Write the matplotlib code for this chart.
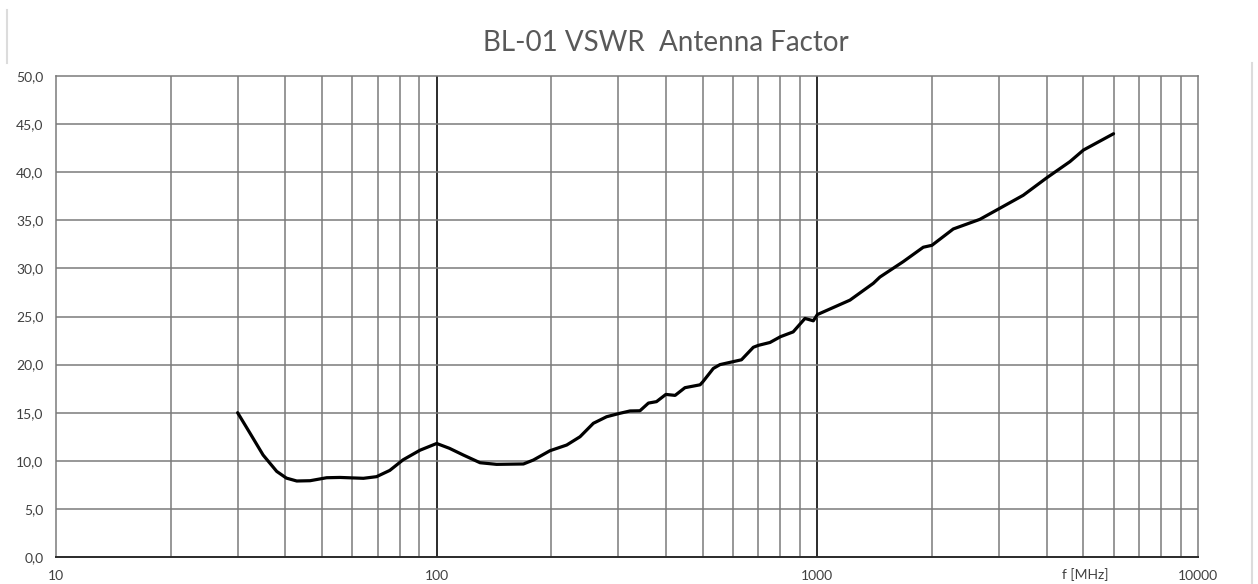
import matplotlib
matplotlib.use("Agg")
import matplotlib.pyplot as plt
from matplotlib.lines import Line2D
from matplotlib.ticker import FixedLocator, NullFormatter

# ---- data ----
freq_mhz = [30, 32.3, 35, 38, 40.3, 42.9, 46.5, 51.4, 55.7, 64.2, 69.5, 75.3,
            81.6, 90.4, 100, 108, 117.5, 130, 143.7, 169, 179.5, 198.5, 219.6,
            238, 258, 279.5, 303, 322, 342, 360, 378, 400, 423, 449, 492, 500,
            533, 555, 600, 632, 679, 700, 751, 800, 864, 928, 976, 1000, 1218,
            1403, 1460, 1681, 1898, 2000, 2276, 2673, 3000, 3474, 4000, 4609,
            5000, 6000]
antenna_factor = [15.0, 12.9, 10.6, 8.9, 8.2, 7.9, 7.93, 8.24, 8.27, 8.18,
                  8.35, 9.0, 10.1, 11.1, 11.8, 11.3, 10.6, 9.8, 9.63, 9.67,
                  10.08, 11.05, 11.64, 12.5, 13.9, 14.58, 14.94, 15.18, 15.2,
                  16.0, 16.15, 16.9, 16.8, 17.6, 17.9, 18.2, 19.6, 20.0, 20.3,
                  20.5, 21.8, 22.0, 22.3, 22.9, 23.4, 24.8, 24.55, 25.2, 26.7,
                  28.45, 29.1, 30.7, 32.2, 32.4, 34.1, 35.1, 36.2, 37.6, 39.4,
                  41.1, 42.3, 44.0]
x_major = [10, 100, 1000, 10000]
x_labels = ["10", "100", "1000", "10000"]
y_ticks = [0, 5, 10, 15, 20, 25, 30, 35, 40, 45, 50]
y_labels = ["0,0", "5,0", "10,0", "15,0", "20,0", "25,0", "30,0", "35,0",
            "40,0", "45,0", "50,0"]
title = "BL-01 VSWR  Antenna Factor"
x_unit = "f [MHz]"

W, H = 1258, 584
fig = plt.figure(figsize=(W / 100, H / 100), dpi=100)
fig.patch.set_facecolor("white")
left, right, top, bottom = 56, 1198, 76, 557
ax = fig.add_axes([left / W, 1 - bottom / H, (right - left) / W, (bottom - top) / H])

ax.set_xscale("log")
ax.set_xlim(10, 10000)
ax.set_ylim(0, 50)

minor = [m * d for d in (10, 100, 1000) for m in range(2, 10)]
ax.xaxis.set_major_locator(FixedLocator(x_major))
ax.xaxis.set_minor_locator(FixedLocator(minor))
ax.xaxis.set_minor_formatter(NullFormatter())
ax.set_xticklabels(x_labels)
ax.set_yticks(y_ticks)
ax.set_yticklabels(y_labels)

for m in minor:
    ax.axvline(m, color="#7a7a7a", lw=1.1, zorder=1)
for m in x_major[1:-1]:
    ax.axvline(m, color="#1a1a1a", lw=1.3, zorder=1)
for yv in y_ticks[1:-1]:
    ax.axhline(yv, color="#7a7a7a", lw=1.1, zorder=1)

ax.plot(freq_mhz, antenna_factor, color="black", lw=2.3, zorder=3,
        solid_joinstyle="round", solid_capstyle="round")

for s in ("top", "right", "left"):
    ax.spines[s].set_color("#7a7a7a")
    ax.spines[s].set_linewidth(1.1)
ax.spines["bottom"].set_color("#2a2a2a")
ax.spines["bottom"].set_linewidth(1.4)

ax.tick_params(axis="both", which="both", length=0)
ax.tick_params(axis="x", pad=9, labelsize=10, labelcolor="#404040")
ax.tick_params(axis="y", pad=9, labelsize=10, labelcolor="#404040")
for lab in ax.get_xticklabels() + ax.get_yticklabels():
    lab.set_family("Lato")

fig.text(666 / W, 1 - 43 / H, title, ha="center", va="center",
         fontsize=20, color="#595959", family="Lato")
fig.text(1085 / W, 1 - 575 / H, x_unit, ha="center", va="center",
         fontsize=10, color="#404040", family="Lato")

fig.add_artist(Line2D([7 / W, 7 / W], [1 - 10 / H, 1 - 63 / H],
                      transform=fig.transFigure, color="#dcdcdc", lw=1.5))
fig.add_artist(Line2D([1252 / W, 1252 / W], [1 - 63 / H, 0],
                      transform=fig.transFigure, color="#dcdcdc", lw=1.5))

fig.savefig("out.png", dpi=100)
